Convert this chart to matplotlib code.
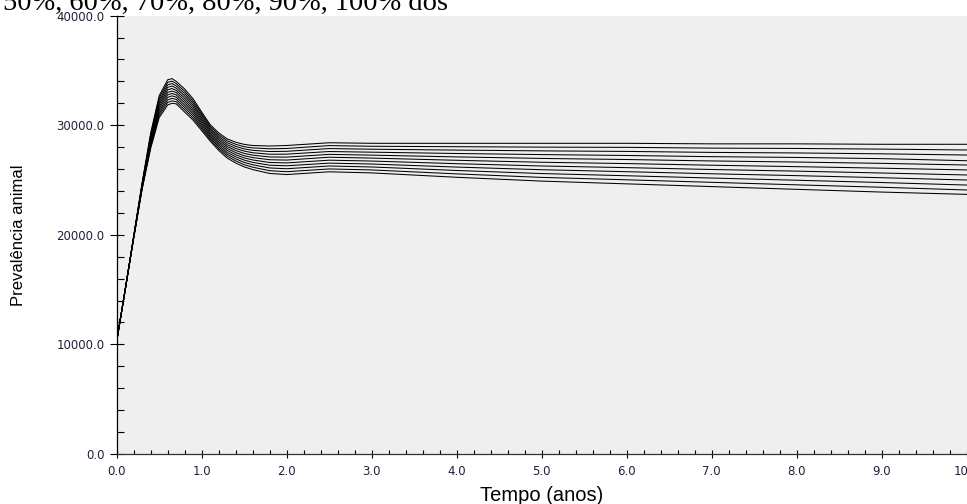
import numpy as np
import matplotlib
matplotlib.use("Agg")
import matplotlib.pyplot as plt
from matplotlib.ticker import MultipleLocator, FormatStrFormatter

# simulation output: animal prevalence over time, one curve per coverage level
anos = [0, 0.1, 0.2, 0.3, 0.4, 0.5, 0.6, 0.65, 0.7, 0.8, 0.9, 1.0, 1.1, 1.2, 1.3,
        1.4, 1.5, 1.6, 1.8, 2.0, 2.5, 3.0, 4.0, 5.0, 6.0, 7.0, 8.0, 9.0, 10.0]

prev_00 = [10300, 15000, 19900, 24800, 29300, 32700, 34150, 34250, 34000, 33300, 32400, 31200, 30050, 29300, 28750,
           28450, 28250, 28150, 28100, 28150, 28400, 28350, 28350, 28350, 28350, 28300, 28300, 28260, 28260]
prev_01 = [10300, 15000, 19880, 24740, 29160, 32500, 33920, 34020, 33800, 33090, 32200, 31030, 29900, 29140, 28580,
           28260, 28040, 27930, 27850, 27880, 28140, 28080, 28040, 28000, 27980, 27910, 27880, 27820, 27740]
prev_02 = [10300, 15000, 19860, 24680, 29020, 32300, 33690, 33800, 33590, 32880, 32010, 30860, 29750, 28980, 28400,
           28070, 27840, 27710, 27600, 27620, 27870, 27810, 27730, 27660, 27610, 27520, 27470, 27390, 27280]
prev_03 = [10300, 15000, 19840, 24620, 28880, 32100, 33460, 33580, 33380, 32670, 31820, 30690, 29600, 28820, 28220,
           27880, 27640, 27490, 27350, 27360, 27600, 27540, 27420, 27320, 27240, 27130, 27060, 26950, 26760]
prev_04 = [10300, 15000, 19820, 24560, 28740, 31900, 33230, 33350, 33180, 32460, 31620, 30520, 29450, 28660, 28050,
           27690, 27430, 27270, 27100, 27090, 27340, 27270, 27110, 26970, 26870, 26740, 26640, 26520, 26370]
prev_05 = [10300, 15000, 19800, 24500, 28600, 31700, 33000, 33120, 32980, 32250, 31420, 30350, 29300, 28500, 27880,
           27500, 27220, 27050, 26850, 26820, 27080, 27000, 26800, 26620, 26500, 26350, 26220, 26080, 25920]
prev_06 = [10300, 15000, 19780, 24440, 28460, 31500, 32770, 32900, 32770, 32040, 31230, 30180, 29150, 28340, 27700,
           27310, 27020, 26830, 26600, 26560, 26810, 26730, 26490, 26280, 26130, 25960, 25810, 25640, 25460]
prev_07 = [10300, 15000, 19760, 24380, 28320, 31300, 32540, 32680, 32560, 31830, 31040, 30010, 29000, 28180, 27520,
           27120, 26820, 26610, 26350, 26300, 26540, 26460, 26180, 25940, 25760, 25570, 25400, 25210, 25000]
prev_08 = [10300, 15000, 19740, 24320, 28180, 31100, 32310, 32450, 32360, 31620, 30840, 29840, 28850, 28020, 27350,
           26930, 26610, 26390, 26100, 26030, 26280, 26190, 25870, 25590, 25390, 25180, 24980, 24770, 24540]
prev_09 = [10300, 15000, 19720, 24260, 28040, 30900, 32080, 32220, 32150, 31410, 30640, 29670, 28700, 27860, 27180,
           26740, 26400, 26170, 25850, 25760, 26010, 25920, 25560, 25240, 25020, 24790, 24560, 24340, 24090]
prev_10 = [10300, 15000, 19700, 24200, 27900, 30700, 31850, 32000, 31950, 31200, 30450, 29500, 28550, 27700, 27000,
           26550, 26200, 25950, 25600, 25500, 25750, 25650, 25250, 24900, 24650, 24400, 24150, 23900, 23690]

curvas = [prev_00, prev_01, prev_02, prev_03, prev_04, prev_05,
          prev_06, prev_07, prev_08, prev_09, prev_10]

fig = plt.figure(figsize=(9.67, 5.04), dpi=100)
ax = fig.add_axes([0.1207, 0.0992, 0.8790, 0.8698])
ax.set_facecolor("#efefef")

for y in curvas:
    ax.plot(anos, y, color="black", lw=0.75)

ax.set_xlim(0, 10)
ax.set_ylim(0, 40000)
ax.xaxis.set_major_locator(MultipleLocator(1.0))
ax.xaxis.set_minor_locator(MultipleLocator(0.2))
ax.yaxis.set_major_locator(MultipleLocator(10000))
ax.yaxis.set_minor_locator(MultipleLocator(2000))
ax.xaxis.set_major_formatter(FormatStrFormatter("%.1f"))
ax.yaxis.set_major_formatter(FormatStrFormatter("%.1f"))

tick_col = "#20203c"
ax.tick_params(axis="y", which="major", direction="inout", length=9.5, width=0.8,
               pad=4, labelsize=8.5, labelcolor=tick_col)
ax.tick_params(axis="y", which="minor", direction="in", length=5, width=0.8)
ax.tick_params(axis="x", which="major", direction="inout", length=6, width=0.8,
               pad=5, labelsize=8.5, labelcolor=tick_col)
ax.tick_params(axis="x", which="minor", direction="in", length=3, width=0.8)

for s in ("top", "right"):
    ax.spines[s].set_visible(False)
ax.spines["left"].set_linewidth(0.9)
ax.spines["bottom"].set_linewidth(0.9)
ax.spines["bottom"].set_color("#333333")

ax.set_xlabel("Tempo (anos)", fontsize=14.5, family=["Liberation Sans", "DejaVu Sans"],
              labelpad=6)
fig.text(0.019, 0.534, "Prevalência animal", rotation=90, va="center", ha="center",
         fontsize=12, family=["Liberation Sans Narrow", "Liberation Sans"])

# caption line from the page, cut off by the top border
fig.text(0.463, 0.980, "50%, 60%, 70%, 80%, 90%, 100% dos", ha="right", va="baseline",
         fontsize=20.5, family=["Liberation Serif", "DejaVu Serif"])

fig.savefig("out.png", dpi=100)
